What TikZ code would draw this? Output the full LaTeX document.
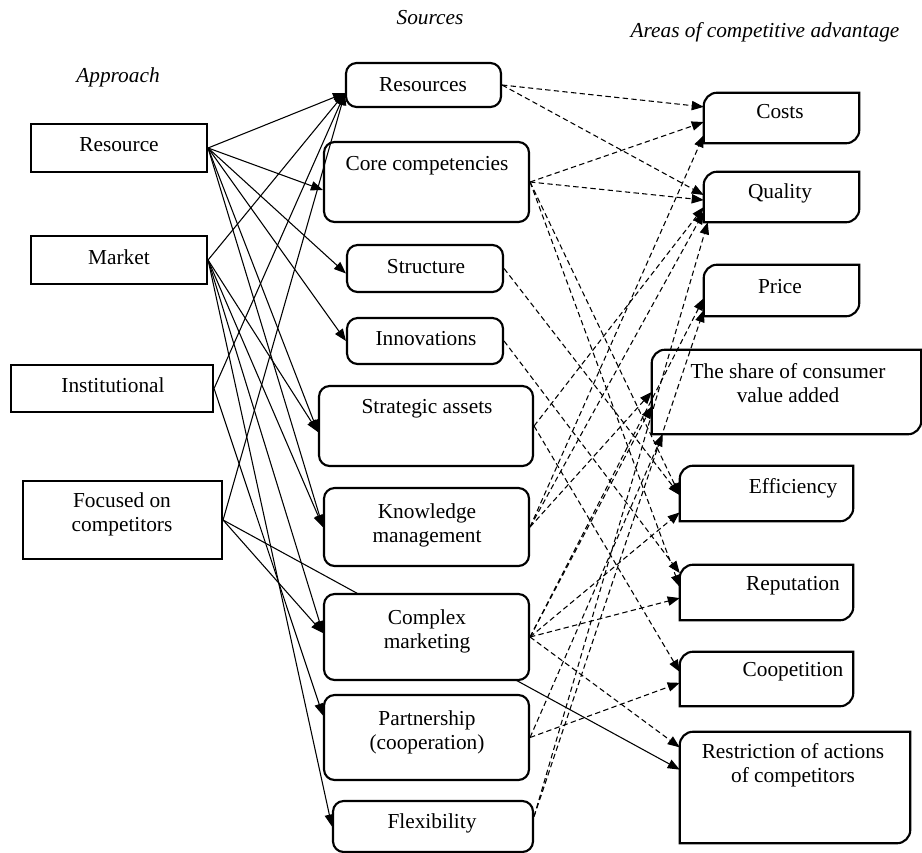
\documentclass[tikz,border=0pt]{standalone}
\usepackage{fontspec}
\setmainfont{Liberation Serif}
\usetikzlibrary{calc,arrows.meta,fit}
\newcommand\dgbox[1]{\draw[line width=1.6pt, fill=white]
  ($(#1.north west)+(0pt,-10pt)$) .. controls ($(#1.north west)+(0pt,-4.5pt)$) and ($(#1.north west)+(4.5pt,0pt)$) .. ($(#1.north west)+(10pt,0pt)$)
  -- (#1.north east) -- ($(#1.south east)+(0pt,10pt)$)
  .. controls ($(#1.south east)+(0pt,4.5pt)$) and ($(#1.south east)+(-4.5pt,0pt)$) .. ($(#1.south east)+(-10pt,0pt)$)
  -- (#1.south west) -- cycle;}
\begin{document}
\begin{tikzpicture}[x=0.75pt,y=-0.75pt,
  every node/.style={font=\fontsize{16}{18}\selectfont},
  sq/.style={draw, line width=1.6pt, fill=white, inner sep=0pt},
  rd/.style={draw, line width=1.6pt, fill=white, rounded corners=8pt, inner sep=0pt},
  dg/.style={draw=none, inner sep=0pt},
  txt/.style={align=center, inner sep=0pt},
  ttl/.style={font=\fontsize{16}{18}\selectfont\itshape, inner sep=0pt},
  sol/.style={line width=0.8pt, -{Triangle[length=9pt,width=7pt]}},
  dsh/.style={line width=0.8pt, dash pattern=on 4pt off 2.5pt, -{Triangle[length=9pt,width=7pt]}},
]
\useasboundingbox (0,0) rectangle (922,853);

% titles
\node[ttl] (t-app) at (118,77) {Approach};
\node[ttl] (t-src) at (430,18) {Sources};
\node[ttl] (t-area) at (765,32) {Areas of competitive advantage};

% line passing under "Complex marketing"
\node[sq, fit={(23,481) (222,559)}] (foc) {};
\node[dg, fit={(680,732) (910,843)}] (restr) {};
\draw[sol] (foc.east) -- ($(restr.north west)!0.34!(restr.south west)$);

% approach boxes
\node[sq, fit={(31,124) (207,172)}] (res) {};
\node[sq, fit={(31,236) (207,284)}] (mkt) {};
\node[sq, fit={(11,365) (213,412)}] (inst) {};
\node[sq, fit={(23,481) (222,559)}] (foc2) {};

% source boxes
\node[rd, fit={(346,63) (501,107)}] (rsc) {};
\node[rd, fit={(324,142) (529,222)}] (core) {};
\node[rd, fit={(347,245) (503,292)}] (str) {};
\node[rd, fit={(347,318) (503,364)}] (inn) {};
\node[rd, fit={(319,386) (533,466)}] (sa) {};
\node[rd, fit={(324,488) (529,566)}] (km) {};
\node[rd, fit={(324,594) (529,680)}] (cm) {};
\node[rd, fit={(324,695) (529,780)}] (pc) {};
\node[rd, fit={(333,801) (533,852)}] (flex) {};

% advantage boxes
\node[dg, fit={(704,93) (859,143)}] (costs) {};
\node[dg, fit={(704,172) (859,222)}] (qual) {};
\node[dg, fit={(704,265) (859,316)}] (price) {};
\node[dg, fit={(652,350) (921,434)}] (share) {};
\node[dg, fit={(680,466) (853,521)}] (eff) {};
\node[dg, fit={(680,565) (853,620)}] (rep) {};
\node[dg, fit={(680,652) (853,706)}] (coop) {};
\dgbox{costs}\dgbox{qual}\dgbox{price}\dgbox{share}
\dgbox{eff}\dgbox{rep}\dgbox{coop}\dgbox{restr}

% texts
\node[txt] (res-t) at (119,145) {Resource};
\node[txt] (mkt-t) at (119,257) {Market};
\node[txt] (inst-t) at (113,385) {Institutional};
\node[txt] (foc-t) at (122,514) {Focused on\\competitors};
\node[txt] (rsc-t) at (423,85) {Resources};
\node[txt] (core-t) at (427,166) {Core competencies};
\node[txt] (str-t) at (426,267) {Structure};
\node[txt] (inn-t) at (426,339) {Innovations};
\node[txt] (sa-t) at (427,409) {Strategic assets};
\node[txt] (km-t) at (427,525) {Knowledge\\management};
\node[txt] (cm-t) at (427,631) {Complex\\marketing};
\node[txt] (pc-t) at (427,732) {Partnership\\(cooperation)};
\node[txt] (flex-t) at (432,823) {Flexibility};
\node[txt] (costs-t) at (780,112) {Costs};
\node[txt] (qual-t) at (780,193) {Quality};
\node[txt] (price-t) at (780,287) {Price};
\node[txt] (share-t) at (788,383) {The share of consumer\\value added};
\node[txt] (eff-t) at (793,488) {Efficiency};
\node[txt] (rep-t) at (793,586) {Reputation};
\node[txt] (coop-t) at (793,672) {Coopetition};
\node[txt] (restr-t) at (793,765) {Restriction of actions\\of competitors};

% solid connectors
\draw[sol] (res.east) -- ($(rsc.west)+(0,8)$);
\draw[sol] (res.east) -- ($(core.west)+(0,8)$);
\draw[sol] (res.east) -- ($(str.west)+(0,5)$);
\draw[sol] (res.east) -- (inn.west);
\draw[sol] (res.east) -- ($(sa.west)+(0,6)$);
\draw[sol] (res.east) -- (km.west);
\draw[sol] (mkt.east) -- ($(rsc.west)+(0,8)$);
\draw[sol] (mkt.east) -- ($(sa.west)+(0,6)$);
\draw[sol] (mkt.east) -- (km.west);
\draw[sol] (mkt.east) -- ($(cm.west)+(0,-4)$);
\draw[sol] (mkt.east) -- (flex.west);
\draw[sol] (inst.east) -- ($(rsc.west)+(0,8)$);
\draw[sol] (inst.east) -- ($(pc.west)+(0,-22)$);
\draw[sol] (foc2.east) -- ($(rsc.west)+(0,8)$);
\draw[sol] (foc2.east) -- ($(cm.west)+(0,-4)$);

% dashed connectors
\draw[dsh] (rsc.east) -- ($(costs.north west)!0.28!(costs.south west)$);
\draw[dsh] (rsc.east) -- ($(qual.north west)!0.46!(qual.south west)$);
\draw[dsh] (core.east) -- ($(costs.north west)!0.58!(costs.south west)$);
\draw[dsh] (core.east) -- ($(qual.north west)!0.56!(qual.south west)$);
\draw[dsh] (core.east) -- ($(eff.north west)!0.53!(eff.south west)$);
\draw[dsh] (core.east) -- ($(rep.north west)!0.4!(rep.south west)$);
\draw[dsh] (str.east) -- ($(eff.north west)!0.53!(eff.south west)$);
\draw[dsh] (inn.east) -- ($(rep.north west)!0.15!(rep.south west)$);
\draw[dsh] (sa.east) -- ($(qual.north west)!0.7!(qual.south west)$);
\draw[dsh] (sa.east) -- ($(coop.north west)!0.37!(coop.south west)$);
\draw[dsh] (km.east) -- ($(costs.north west)!0.84!(costs.south west)$);
\draw[dsh] (km.east) -- ($(qual.north west)!0.8!(qual.south west)$);
\draw[dsh] (km.east) -- ($(share.north west)!0.5!(share.south west)$);
\draw[dsh] (cm.east) -- ($(price.north west)!0.65!(price.south west)$);
\draw[dsh] (cm.east) -- ($(share.north west)!0.67!(share.south west)$);
\draw[dsh] (cm.east) -- ($(eff.north west)!0.84!(eff.south west)$);
\draw[dsh] (cm.east) -- ($(rep.north west)!0.6!(rep.south west)$);
\draw[dsh] (cm.east) -- ($(restr.north west)!0.14!(restr.south west)$);
\draw[dsh] (pc.east) -- ($(share.south west)+(11,0)$);
\draw[dsh] (pc.east) -- ($(coop.north west)!0.57!(coop.south west)$);
\draw[dsh] ($(flex.east)+(0,-10)$) -- ($(qual.south west)+(4,0)$);
\draw[dsh] ($(flex.east)+(0,-10)$) -- ($(price.north west)!0.88!(price.south west)$);
\end{tikzpicture}
\end{document}
